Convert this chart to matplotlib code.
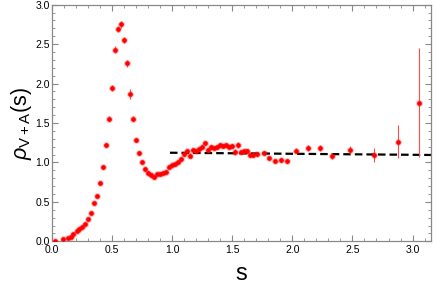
import numpy as np
import matplotlib
matplotlib.use('Agg')
import matplotlib.pyplot as plt
from matplotlib.ticker import MultipleLocator

# %% data
s = [0.027, 0.09, 0.133, 0.158, 0.18, 0.208, 0.23, 0.255, 0.28, 0.305,
     0.33, 0.355, 0.38, 0.404, 0.43, 0.454, 0.479, 0.504, 0.529, 0.554,
     0.579, 0.604, 0.629, 0.654, 0.678, 0.703, 0.728, 0.753, 0.778, 0.803,
     0.828, 0.853, 0.878, 0.903, 0.928, 0.953, 0.978, 1.002, 1.027, 1.052,
     1.077, 1.1, 1.124, 1.15, 1.175, 1.2, 1.224, 1.249, 1.274, 1.3,
     1.324, 1.349, 1.374, 1.399, 1.424, 1.449, 1.474, 1.499, 1.524, 1.549,
     1.574, 1.599, 1.624, 1.648, 1.673, 1.71, 1.762, 1.81, 1.86, 1.909,
     1.958, 2.034, 2.133, 2.233, 2.333, 2.483, 2.68, 2.88, 3.056]
rho = [0.008, 0.025, 0.04, 0.06, 0.09, 0.135, 0.15, 0.18, 0.215, 0.28,
       0.355, 0.49, 0.58, 0.735, 0.94, 1.22, 1.555, 1.947, 2.43, 2.69,
       2.75, 2.55, 2.256, 1.867, 1.554, 1.284, 1.115, 1.0, 0.916, 0.87,
       0.844, 0.815, 0.85, 0.857, 0.866, 0.882, 0.946, 0.963, 0.98, 1.0,
       1.047, 1.106, 1.146, 1.085, 1.157, 1.148, 1.174, 1.2, 1.242, 1.157,
       1.19, 1.183, 1.2, 1.224, 1.21, 1.216, 1.195, 1.208, 1.13, 1.224,
       1.128, 1.144, 1.148, 1.094, 1.094, 1.106, 1.119, 1.056, 1.022, 1.026,
       1.018, 1.148, 1.179, 1.183, 1.085, 1.153, 1.098, 1.262, 1.757]
err = [0.005, 0.005, 0.005, 0.005, 0.006, 0.006, 0.007, 0.007, 0.008, 0.01,
       0.01, 0.012, 0.015, 0.02, 0.02, 0.025, 0.03, 0.04, 0.045, 0.04,
       0.04, 0.04, 0.04, 0.06, 0.03, 0.02, 0.02, 0.02, 0.02, 0.02,
       0.02, 0.02, 0.02, 0.02, 0.02, 0.02, 0.02, 0.02, 0.02, 0.02,
       0.02, 0.025, 0.025, 0.035, 0.025, 0.025, 0.025, 0.025, 0.025, 0.025,
       0.025, 0.025, 0.025, 0.025, 0.025, 0.025, 0.025, 0.025, 0.035, 0.035,
       0.025, 0.025, 0.025, 0.025, 0.025, 0.025, 0.025, 0.025, 0.025, 0.025,
       0.025, 0.03, 0.04, 0.04, 0.04, 0.05, 0.09, 0.21, 0.69]

# pQCD-like dashed curve
s_fit = [0.983, 3.3]
rho_fit = [1.123, 1.093]

# %% plot
plt.rcParams['font.family'] = ['Liberation Sans', 'DejaVu Sans']
plt.rcParams['mathtext.fontset'] = 'custom'
plt.rcParams['mathtext.rm'] = 'Liberation Sans'
plt.rcParams['mathtext.it'] = 'Liberation Sans:italic'

fig = plt.figure(figsize=(4.36, 2.87), dpi=100)
ax = fig.add_axes([0.1186, 0.1592, 0.8699, 0.8244])

ax.plot(s_fit, rho_fit, color='k', ls=(0, (3.4, 1.8)), lw=1.6, zorder=2)
ax.errorbar(s, rho, yerr=err, fmt='o', color='red', ms=3.4, mew=0,
            ecolor='#ff4a4a', elinewidth=0.8, capsize=1.6, capthick=0.8,
            zorder=3)
ax.plot(s, rho, 'o', color='red', ms=5, mew=0, alpha=0.25, zorder=2.5)

ax.set_xlim(0, 3.153)
ax.set_ylim(0, 3.0)
ax.xaxis.set_major_locator(MultipleLocator(0.5))
ax.xaxis.set_minor_locator(MultipleLocator(0.1))
ax.yaxis.set_major_locator(MultipleLocator(0.5))
ax.yaxis.set_minor_locator(MultipleLocator(0.1))
ax.tick_params(which='both', direction='in', top=True, right=True,
               color='#888888', labelsize=7.5)
ax.tick_params(axis='x', pad=2.5)
ax.tick_params(axis='y', pad=1.5)
ax.tick_params(which='major', length=4.5, width=0.8)
ax.tick_params(which='minor', length=2.2, width=0.6)
for sp in ax.spines.values():
    sp.set_color('#888888')
    sp.set_linewidth(0.9)

ax.set_xlabel('s', fontsize=17, labelpad=6)
ax.set_ylabel(r'$\rho_{\mathrm{V+A}}$(s)', fontsize=15.5, labelpad=1)

fig.savefig('out.png', dpi=100)
